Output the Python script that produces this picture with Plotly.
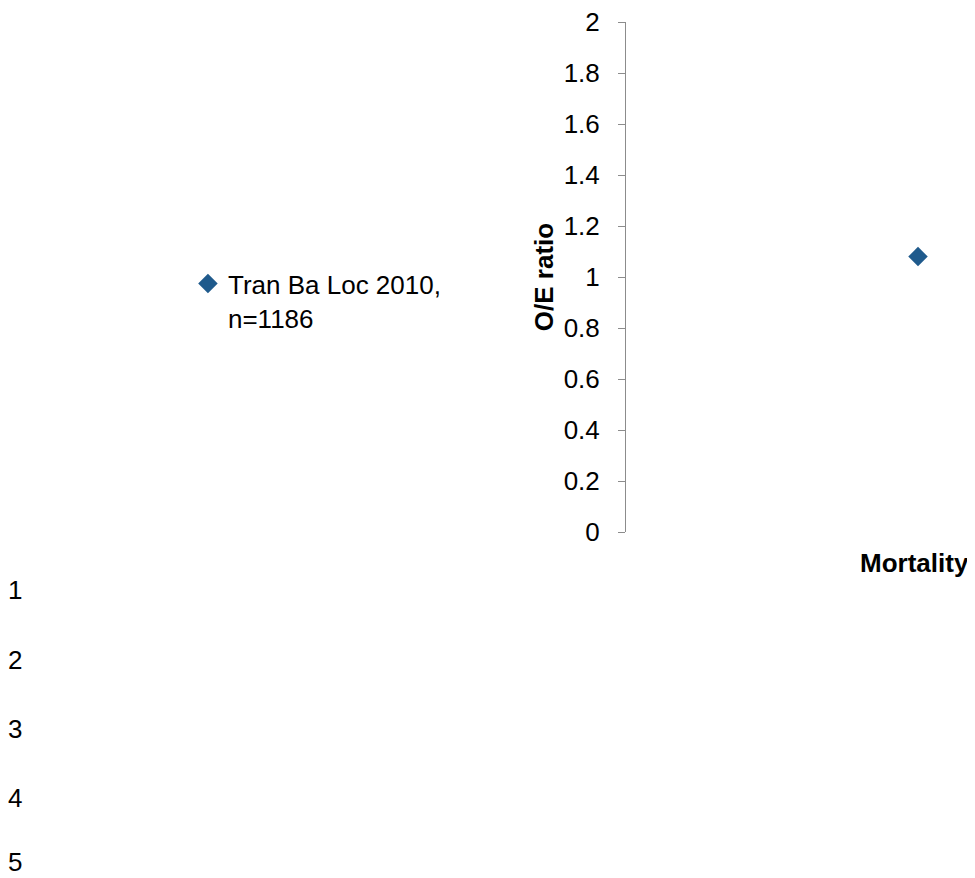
import plotly.graph_objects as go

# Data
categories = ["Mortality"]
oe_values = [1.08]
series_name = "Tran Ba Loc 2010,<br>n=1186"
side_labels = ["1", "2", "3", "4", "5"]
side_label_y = [-0.1137, -0.2510, -0.3863, -0.5216, -0.6470]

FONT = "Liberation Sans, Arial, sans-serif"
AXIS_GRAY = "#8C8C8C"
FS = 26

fig = go.Figure()
fig.add_trace(go.Scatter(
    x=categories, y=oe_values, mode="markers", name=series_name,
    marker=dict(symbol="diamond", size=15, color="#1F5A8C"),
))

fig.update_layout(
    width=975, height=878,
    margin=dict(l=618, r=0, t=14, b=354),
    plot_bgcolor="white", paper_bgcolor="white",
    font=dict(family=FONT, size=FS, color="#000000"),
    showlegend=True,
    legend=dict(x=-1.227, xanchor="left", y=0.533, yanchor="top", valign="top",
                font=dict(size=FS), itemwidth=30, bgcolor="rgba(0,0,0,0)"),
    xaxis=dict(type="category", range=[-0.5, 0.1113], showline=False,
               showticklabels=False, ticks="", showgrid=False, zeroline=False),
    yaxis=dict(range=[0, 2], dtick=0.2, tick0=0, showline=True, linecolor=AXIS_GRAY,
               linewidth=1, ticks="outside", ticklen=7, tickcolor=AXIS_GRAY,
               showgrid=False, zeroline=False, ticklabelstandoff=13,
               ticklabeloverflow="allow",
               title=dict(text="<b>O/E ratio</b>", font=dict(size=FS), standoff=2)),
)

fig.add_annotation(x=categories[0], y=-0.0608, xref="x", yref="paper",
                   text="<b>Mortality</b>", showarrow=False, xshift=-4,
                   font=dict(size=FS, family=FONT), xanchor="center", yanchor="middle")

for lab, yy in zip(side_labels, side_label_y):
    fig.add_annotation(x=(7 - 618) / 357, y=yy, xref="paper", yref="paper",
                       text=lab, showarrow=False, font=dict(size=FS, family=FONT),
                       xanchor="center", yanchor="middle")

fig.write_html("out.html")
